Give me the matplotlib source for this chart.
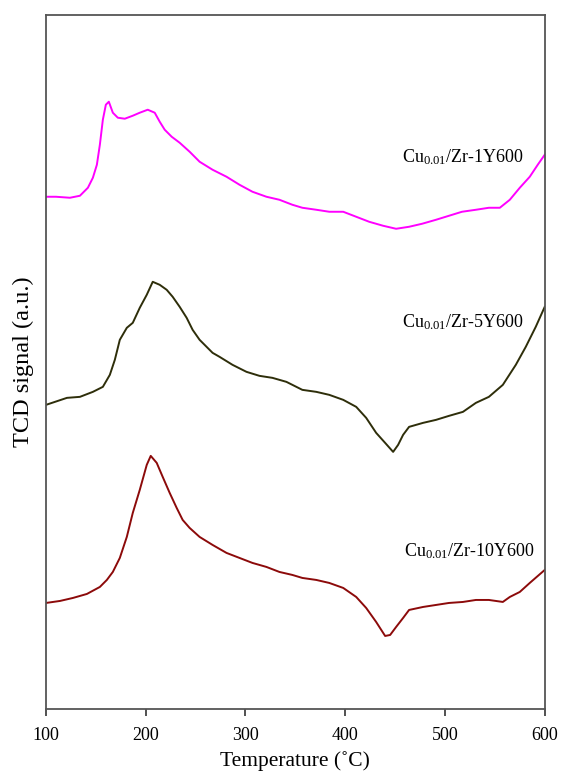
import matplotlib
matplotlib.use("Agg")
import matplotlib.pyplot as plt

plt.rcParams['font.family'] = ['Liberation Serif', 'DejaVu Serif']
plt.rcParams['mathtext.fontset'] = 'custom'
plt.rcParams['mathtext.rm'] = 'Liberation Serif'
plt.rcParams['mathtext.it'] = 'Liberation Serif:italic'

# Cu0.01/Zr-1Y600 (magenta)
t_1y = [100, 110, 124, 134, 142, 147, 151, 154, 157, 160, 163, 167, 172, 179, 187,
        194, 202, 209, 214, 219, 226, 234, 244, 254, 267, 281, 294, 307, 321, 334,
        347, 357, 371, 384, 398, 411, 424, 438, 451, 464, 477, 491, 504, 517, 531,
        544, 555, 565, 575, 585, 593, 600]
s_1y = [5.12, 5.12, 5.11, 5.13, 5.21, 5.31, 5.44, 5.64, 5.89, 6.04, 6.07, 5.96, 5.91,
        5.90, 5.93, 5.96, 5.99, 5.96, 5.87, 5.79, 5.72, 5.66, 5.57, 5.47, 5.39, 5.32,
        5.24, 5.17, 5.12, 5.09, 5.04, 5.01, 4.99, 4.97, 4.97, 4.92, 4.87, 4.83, 4.80,
        4.82, 4.85, 4.89, 4.93, 4.97, 4.99, 5.01, 5.01, 5.09, 5.21, 5.32, 5.44, 5.54]

# Cu0.01/Zr-5Y600 (dark olive)
t_5y = [100, 121, 134, 147, 157, 164, 169, 174, 181, 187, 194, 201, 207, 214, 221,
        227, 234, 241, 247, 254, 261, 267, 274, 287, 301, 314, 327, 341, 351, 357,
        371, 384, 398, 411, 421, 431, 440, 448, 453, 458, 464, 478, 491, 504, 518,
        531, 544, 558, 571, 581, 591, 600]
s_5y = [3.04, 3.11, 3.12, 3.17, 3.22, 3.34, 3.49, 3.69, 3.81, 3.86, 4.01, 4.14, 4.27,
        4.24, 4.19, 4.12, 4.02, 3.91, 3.79, 3.69, 3.62, 3.56, 3.52, 3.44, 3.37, 3.33,
        3.31, 3.27, 3.22, 3.19, 3.17, 3.14, 3.09, 3.02, 2.91, 2.76, 2.66, 2.57, 2.64,
        2.74, 2.82, 2.86, 2.89, 2.93, 2.97, 3.06, 3.12, 3.24, 3.44, 3.62, 3.82, 4.02]

# Cu0.01/Zr-10Y600 (dark red)
t_10y = [100, 114, 127, 141, 154, 161, 167, 174, 181, 187, 194, 201, 205, 211, 217,
         224, 231, 237, 244, 254, 267, 281, 294, 307, 321, 334, 347, 357, 371, 384,
         398, 411, 421, 431, 440, 445, 451, 458, 464, 478, 491, 504, 518, 531, 544,
         558, 565, 575, 585, 600]
s_10y = [1.06, 1.08, 1.11, 1.15, 1.22, 1.29, 1.37, 1.51, 1.72, 1.96, 2.19, 2.44, 2.53,
         2.46, 2.32, 2.16, 2.01, 1.89, 1.81, 1.72, 1.64, 1.56, 1.51, 1.46, 1.42, 1.37,
         1.34, 1.31, 1.29, 1.26, 1.21, 1.12, 1.01, 0.87, 0.73, 0.74, 0.82, 0.91, 0.99,
         1.02, 1.04, 1.06, 1.07, 1.09, 1.09, 1.07, 1.12, 1.17, 1.26, 1.39]

labels = [r'Cu$_{\mathrm{0.01}}$/Zr-1Y600',
          r'Cu$_{\mathrm{0.01}}$/Zr-5Y600',
          r'Cu$_{\mathrm{0.01}}$/Zr-10Y600']
label_pos = [(579, 5.52), (579, 3.87), (590, 1.58)]
colors = ['#ff00ff', '#2e2e0a', '#8c0a0a']

fig = plt.figure(figsize=(5.61, 7.72), dpi=100)
ax = fig.add_axes([0.082, 0.0816, 0.889, 0.8994])

for t, s, c in zip([t_1y, t_5y, t_10y], [s_1y, s_5y, s_10y], colors):
    ax.plot(t, s, color=c, lw=1.4)

for lab, (x, y) in zip(labels, label_pos):
    ax.text(x, y, lab, ha='right', va='center', fontsize=13)

ax.set_xlim(100, 600)
ax.set_ylim(0, 6.94)
ax.set_xticks([100, 200, 300, 400, 500, 600])
ax.set_yticks([])
ax.tick_params(axis='x', direction='out', length=5, width=1.2, labelsize=13,
               colors='#333333', labelcolor='black', pad=8)
for sp in ax.spines.values():
    sp.set_color('#555555')
    sp.set_linewidth(1.3)

ax.set_xlabel('Temperature (˚C)', fontsize=15.5, labelpad=5)
ax.set_ylabel('TCD signal (a.u.)', fontsize=17.5, labelpad=9)

fig.savefig('out.png', dpi=100)
